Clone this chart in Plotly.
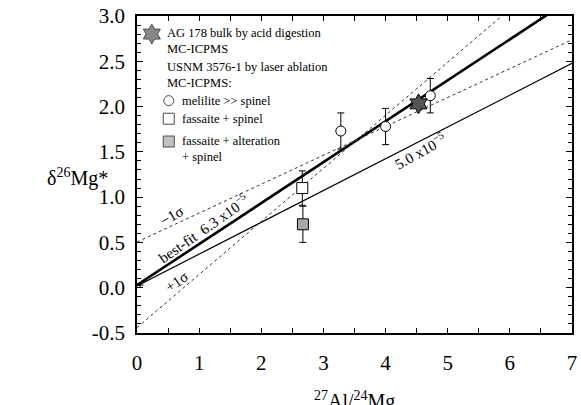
import numpy as np
import plotly.graph_objects as go

# ---------------- data ----------------
# AG 178 bulk (acid digestion MC-ICPMS)
bulk_x = [4.53]
bulk_y = [2.03]

# USNM 3576-1 laser ablation
mel_x = [3.28, 4.00, 4.72]
mel_y = [1.73, 1.78, 2.12]
mel_err = [0.20, 0.20, 0.19]

fas_x = [2.66]
fas_y = [1.10]
fas_err = [0.19]

alt_x = [2.67]
alt_y = [0.70]
alt_err = [0.20]

# reference lines: (slope, intercept)
line_names = ["best-fit", "ref 5.0e-5", "+1 sigma", "-1 sigma"]
line_slopes = [0.452, 0.351, 0.586, 0.319]
line_intercepts = [0.03, 0.02, -0.44, 0.505]
line_x = [0, 7]

x_ticks = [0, 1, 2, 3, 4, 5, 6, 7]
y_ticks = [-0.5, 0.0, 0.5, 1.0, 1.5, 2.0, 2.5, 3.0]
y_ticktext = ["-0.5", "0.0", "0.5", "1.0", "1.5", "2.0", "2.5", "3.0"]

FONT = "Liberation Serif, Times New Roman, Times, serif"

fig = go.Figure()

styles = [
    dict(color="black", width=2.6),
    dict(color="black", width=1.2),
    dict(color="#333", width=1, dash="dot"),
    dict(color="#333", width=1, dash="dot"),
]
for name, m, b, st in zip(line_names, line_slopes, line_intercepts, styles):
    xs = np.array(line_x, dtype=float)
    fig.add_trace(go.Scatter(x=xs, y=m * xs + b, mode="lines", line=st,
                             name=name, showlegend=False, hoverinfo="skip"))

err_style = dict(type="data", thickness=1, width=3.5, color="black")

fig.add_trace(go.Scatter(
    x=mel_x, y=mel_y, mode="markers",
    error_y=dict(array=mel_err, **err_style),
    marker=dict(symbol="circle", size=10, color="white",
                line=dict(color="black", width=1)),
    showlegend=False))
fig.add_trace(go.Scatter(
    x=fas_x, y=fas_y, mode="markers",
    error_y=dict(array=fas_err, **err_style),
    marker=dict(symbol="square", size=11, color="white",
                line=dict(color="black", width=1)),
    showlegend=False))
fig.add_trace(go.Scatter(
    x=alt_x, y=alt_y, mode="markers",
    error_y=dict(array=alt_err, **err_style),
    marker=dict(symbol="square", size=11, color="#a8a8a8",
                line=dict(color="black", width=1)),
    showlegend=False))
fig.add_trace(go.Scatter(
    x=bulk_x, y=bulk_y, mode="markers",
    marker=dict(symbol="hexagram", size=15, color="#555",
                line=dict(color="black", width=1)),
    showlegend=False))

# ---------------- legend keys (overlay axes, layout fractions) ----------------
key_x = [0.034, 0.073, 0.073, 0.073]
key_y = [0.943, 0.733, 0.676, 0.604]
fig.add_trace(go.Scatter(
    x=key_x, y=key_y, xaxis="x2", yaxis="y2", mode="markers",
    marker=dict(symbol=["hexagram", "circle", "square", "square"],
                size=[15, 10, 11, 11],
                color=["#555", "white", "white", "#a8a8a8"],
                line=dict(color="black", width=1)),
    cliponaxis=False, showlegend=False, hoverinfo="skip"))

ann = []
legend_texts = [
    (0.064, 0.921, "AG 178 bulk by acid digestion<br>MC-ICPMS"),
    (0.064, 0.813, "USNM 3576-1 by laser ablation<br>MC-ICPMS:"),
    (0.098, 0.733, "melilite &gt;&gt; spinel"),
    (0.098, 0.676, "fassaite + spinel"),
    (0.098, 0.582, "fassaite + alteration<br>+ spinel"),
]
for x, y, t in legend_texts:
    ann.append(dict(x=x, y=y, xref="paper", yref="paper", text=t,
                    showarrow=False, xanchor="left", yanchor="middle",
                    align="left", font=dict(family=FONT, size=12.5, color="black")))

line_labels = [
    (0.557, 0.79, "−1σ", -30),
    (1.07, 0.66, "best-fit  6.3 x10<sup>−5</sup>", -35),
    (0.636, 0.06, "+1σ", -35),
    (4.55, 1.51, "5.0 x10<sup>−5</sup>", -29),
]
for x, y, t, a in line_labels:
    ann.append(dict(x=x, y=y, xref="x", yref="y", text=t, textangle=a,
                    showarrow=False, font=dict(family=FONT, size=15, color="black")))

# small arrow at the intercept
ann.append(dict(x=0, y=0.03, xref="x", yref="y", ax=8, ay=0, text="",
                showarrow=True, arrowhead=2, arrowsize=0.8, arrowwidth=1,
                arrowcolor="black"))

# axis titles
ann.append(dict(x=-0.211, y=0.49, xref="paper", yref="paper",
                text="δ<sup>26</sup>Mg*", showarrow=False,
                font=dict(family=FONT, size=20, color="black")))
ann.append(dict(x=0.5, y=-0.212, xref="paper", yref="paper",
                text="<sup>27</sup>Al/<sup>24</sup>Mg", showarrow=False,
                yanchor="middle",
                font=dict(family=FONT, size=20, color="black")))

axis_common = dict(showline=True, linecolor="black", linewidth=1.5,
                   mirror="ticks", ticks="inside", tickcolor="black",
                   tickwidth=1.2, showgrid=False, zeroline=False,
                   tickfont=dict(family=FONT, size=21, color="black"))

fig.update_layout(
    width=581, height=405,
    margin=dict(l=137, r=4, t=15, b=72),
    paper_bgcolor="white", plot_bgcolor="white",
    showlegend=False,
    font=dict(family=FONT, color="black"),
    annotations=ann,
    xaxis=dict(range=[0, 7], tickvals=x_ticks, ticklen=5,
               ticklabelstandoff=10,
               minor=dict(dtick=0.5, ticks="inside", ticklen=5,
                          tickcolor="black", tickwidth=1.2),
               **axis_common),
    yaxis=dict(range=[-0.5, 3.0], tickvals=y_ticks, ticktext=y_ticktext,
               ticklen=6, ticklabelstandoff=6,
               minor=dict(dtick=0.1, ticks="inside", ticklen=4,
                          tickcolor="black", tickwidth=1),
               **axis_common),
    xaxis2=dict(overlaying="x", range=[0, 1], visible=False, anchor="y2"),
    yaxis2=dict(overlaying="y", range=[0, 1], visible=False, anchor="x2"),
)

fig.write_html("out.html")
